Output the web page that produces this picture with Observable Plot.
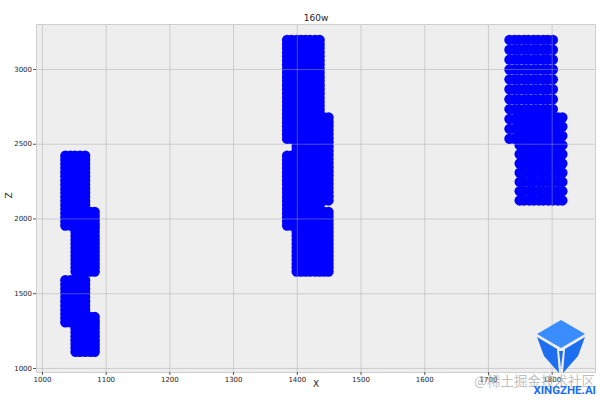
<!DOCTYPE html>
<html><head><meta charset="utf-8">
<script src="https://cdn.jsdelivr.net/npm/d3@7"></script>
<script src="https://cdn.jsdelivr.net/npm/@observablehq/plot@0.6"></script>
<style>
body{margin:0;background:#fff;}
#wrap{position:relative;width:600px;height:400px;overflow:hidden;}
#wm{position:absolute;left:0;top:0;pointer-events:none;}
</style></head><body><div id="wrap"></div>
<script>
// Column X values of each block
const cols1a = [1036, 1044, 1051, 1059, 1067];
const cols1b = [1052, 1059, 1067, 1075, 1082];
const cols2a = [1384, 1391, 1399, 1406, 1413, 1420, 1428, 1435];
const cols2b = [1399, 1406, 1413, 1420, 1428, 1435, 1442, 1449];
const cols3a = [1733, 1741, 1748, 1756, 1763, 1771, 1778, 1786, 1793, 1801];
const cols3b = [1749, 1756, 1764, 1771, 1779, 1786, 1794, 1801, 1809, 1816];
// Row Z values of each band
const rows1dense  = [2537, 2565, 2592, 2620, 2647, 2675, 2702, 2730, 2757, 2785, 2812, 2840, 2868,
                     2895, 2923, 2950, 2978, 3005, 3033, 3060, 3088, 3115, 3143, 3170, 3198];
const rows1sparse = [2537, 2603, 2669, 2735, 2801, 2868, 2934, 3000, 3066, 3132, 3198];
const rows2dense  = [2124, 2152, 2180, 2207, 2235, 2263, 2291, 2318, 2346, 2374, 2402,
                     2429, 2457, 2485, 2513, 2540, 2568, 2596, 2624, 2651, 2679];
const rows2sparse = [2124, 2186, 2248, 2309, 2371, 2433, 2494, 2556, 2618, 2679];
const rows3 = [1956, 1983, 2011, 2038, 2066, 2093, 2121, 2148, 2176, 2203, 2231, 2258, 2286,
               2313, 2341, 2368, 2396, 2423];
const rows4 = [1648, 1675, 1701, 1728, 1754, 1781, 1808, 1834, 1861, 1887, 1914, 1941, 1967,
               1994, 2020, 2047];
const rows5 = [1309, 1337, 1365, 1393, 1421, 1450, 1478, 1506, 1534, 1562, 1590];
const rows6 = [1112, 1138, 1164, 1189, 1215, 1241, 1267, 1293, 1318, 1344];
// Tick labels
const xTicks = [1000, 1100, 1200, 1300, 1400, 1500, 1600, 1700, 1800];
const zTicks = [1000, 1500, 2000, 2500, 3000];

const blocks = [
  {xs: cols1a, zs: rows3}, {xs: cols1b, zs: rows4},
  {xs: cols1a, zs: rows5}, {xs: cols1b, zs: rows6},
  {xs: cols2a, zs: rows1dense}, {xs: cols2b, zs: rows2dense},
  {xs: cols2a, zs: rows3}, {xs: cols2b, zs: rows4},
  {xs: cols3a, zs: rows1sparse}, {xs: cols3b, zs: rows2sparse}
];
const points = blocks.flatMap(b => b.xs.flatMap(x => b.zs.map(z => ({x, z}))));

const chart = Plot.plot({
  width: 600, height: 400,
  marginLeft: 36, marginRight: 5, marginTop: 24, marginBottom: 28,
  style: {fontFamily: "DejaVu Sans", fontSize: "7px", color: "#222", background: "white"},
  x: {domain: [990.7, 1868], label: null},
  y: {domain: [973, 3301], label: null},
  marks: [
    Plot.frame({fill: "#eeeeee", stroke: null}),
    Plot.dot(points, {x: "x", y: "z", r: 5.2, fill: "#0000ff", stroke: "none"}),
    Plot.gridX(xTicks, {stroke: "#a8a8a8", strokeOpacity: 0.45}),
    Plot.gridY(zTicks, {stroke: "#a8a8a8", strokeOpacity: 0.45}),
    Plot.frame({stroke: "#cfcfcf"}),
    Plot.axisX(xTicks, {tickSize: 3, tickPadding: 2, fontSize: 7, stroke: "#555", tickFormat: d3.format("d"), label: null}),
    Plot.axisY(zTicks, {tickSize: 3, tickPadding: 1.5, fontSize: 7, stroke: "#555", tickFormat: d3.format("d"), label: null}),
    Plot.text(["160w"], {frameAnchor: "top", dy: -10, fontSize: 9, fill: "#222"}),
    Plot.text(["X"], {frameAnchor: "bottom", dy: 14, fontSize: 9, fill: "#222"}),
    Plot.text(["Z"], {frameAnchor: "left", dx: -27, rotate: -90, fontSize: 9, fill: "#222"})
  ]
});
const wrap = document.getElementById("wrap");
wrap.appendChild(chart);
wrap.insertAdjacentHTML("beforeend", `
<svg id="wm" width="600" height="400" xmlns="http://www.w3.org/2000/svg">
  <polygon points="561,320 585,334 561,348 537,334" fill="#3a8dff"/>
  <polygon points="537,337 557,349 559,373 544,356" fill="#1e6ff0"/>
  <polygon points="585,337 565,349 563,373 578,356" fill="#1e6ff0"/>
  <polygon points="559,351 563,351 561,368" fill="#1e6ff0"/>
  <text x="595" y="386" text-anchor="end" font-size="13.5" fill="#aaaaaa" fill-opacity="0.75" font-family="Noto Sans CJK SC">@稀土掘金技术社区</text>
  <text x="596" y="394" text-anchor="end" font-size="11.5" font-weight="bold" fill="#1a6cf5" font-family="Roboto">XINGZHE.AI</text>
</svg>`);
</script></body></html>
